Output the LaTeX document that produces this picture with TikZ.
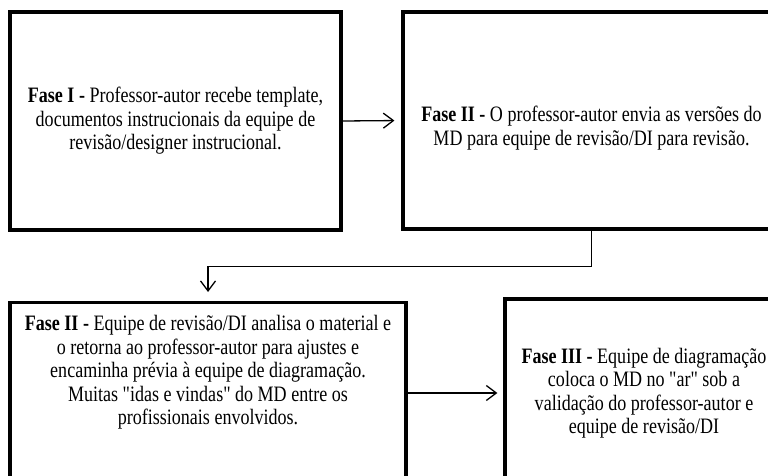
\documentclass[tikz,border=0pt]{standalone}
\usepackage{fontspec}
\setmainfont{Liberation Serif}[FakeStretch=0.82,Ligatures=TeXOff]
\usetikzlibrary{arrows.meta}
\tikzset{fase/.style={draw,line width=3.2pt,align=center,inner xsep=0pt,
    font=\fontsize{22}{23.5}\selectfont},
  seta/.style={-{Straight Barb[length=10pt,width=15pt]},line width=1.3pt}}

\begin{document}
\begin{tikzpicture}[line join=miter,x=1pt,y=-1pt]
\useasboundingbox (0,0) rectangle (768,476);
\clip (0,0) rectangle (768,476);
\node[fase,minimum width=331pt,minimum height=218pt] (f1) at (175.5,121)
  {\textbf{Fase I -} Professor-autor recebe template,\\ documentos instrucionais da equipe de\\ revisão/designer instrucional.};
\node[fase,minimum width=377pt,minimum height=217pt] (f2) at (591.5,120.5)
  {\rule{0pt}{31pt}\textbf{Fase II -} O professor-autor envia as versões do\\ MD para equipe de revisão/DI para revisão.};
\node[fase,minimum width=396pt,inner ysep=13pt,text depth=110pt,anchor=north] (f3) at (208,301)
  {\textbf{Fase II -} Equipe de revisão/DI analisa o material e\\ o retorna ao professor-autor para ajustes e\\ encaminha prévia à equipe de diagramação.\\ Muitas "idas e vindas" do MD entre os\\ profissionais envolvidos.};
\node[fase,minimum width=278pt,minimum height=188pt] (f4) at (644,393)
  {\textbf{Fase III -} Equipe de diagramação\\ coloca o MD no "ar" sob a\\ validação do professor-autor e\\ equipe de revisão/DI};
\draw[seta,shorten >=7pt] (f1.east) -- (f2.west);
\draw[seta,shorten >=9pt] (f2.south) -- ++(0,36) -| (f3.north);
\draw[seta,shorten >=6pt] (f4.west -| f3.east) -- (f4.west);
\end{tikzpicture}
\end{document}
